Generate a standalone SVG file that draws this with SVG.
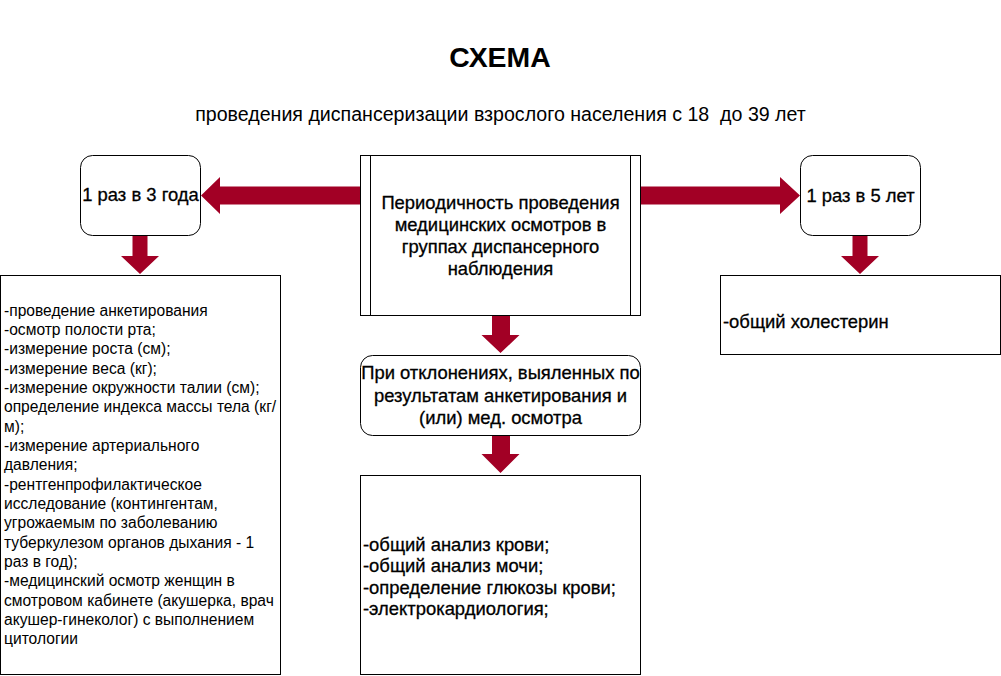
<svg xmlns="http://www.w3.org/2000/svg" width="1001" height="676" viewBox="0 0 1001 676">
<style>
text{font-family:"Liberation Sans",Arial,sans-serif;fill:#000}
.box{fill:#fff;stroke:#000;stroke-width:1}
.arr{fill:#A20025;stroke:none}
.t18{font-size:18.4px;stroke:#000;stroke-width:0.3}
.c{text-anchor:middle}
.l15{font-size:15.6px}
</style>
<rect width="1001" height="676" fill="#fff"/>
<g id="title">
<text x="500" y="67" class="c" style="font-size:28.4px;font-weight:bold">СХЕМА</text>
<text x="500.5" y="120.5" class="c" style="font-size:19.6px;white-space:pre">проведения диспансеризации взрослого населения с 18  до 39 лет</text>
</g>
<g id="connectors">
<polygon class="arr" points="360,186.5 220,186.5 220,177 201,195.5 220,214 220,204.5 360,204.5"/>
<polygon class="arr" points="640,186.5 780,186.5 780,177 800,195.5 780,214 780,204.5 640,204.5"/>
<polygon class="arr" points="132.5,236 147.5,236 147.5,256 159,256 140,274 121,256 132.5,256"/>
<polygon class="arr" points="852.5,236 867.5,236 867.5,256 879,256 860,274 841,256 852.5,256"/>
<polygon class="arr" points="492,315 510,315 510,335 519.5,335 500.5,353 481.5,335 492,335"/>
<polygon class="arr" points="492,436 510,436 510,454 519.5,454 500.5,473 481.5,454 492,454"/>
</g>
<g id="node-center">
<rect class="box" x="360.5" y="155.5" width="280" height="160"/>
<line x1="370.5" y1="155.5" x2="370.5" y2="315.5" stroke="#000"/>
<line x1="630.5" y1="155.5" x2="630.5" y2="315.5" stroke="#000"/>
<text class="t18 c" x="500.5" y="209">Периодичность проведения</text>
<text class="t18 c" x="500.5" y="231">медицинских осмотров в</text>
<text class="t18 c" x="500.5" y="253">группах диспансерного</text>
<text class="t18 c" x="500.5" y="275">наблюдения</text>
</g>
<g id="node-3years">
<rect class="box" x="80.5" y="155.5" width="120" height="80" rx="12"/>
<text class="t18 c" x="140.5" y="201">1 раз в 3 года</text>
</g>
<g id="node-5years">
<rect class="box" x="800.5" y="155.5" width="120" height="80" rx="12"/>
<text class="t18 c" x="860.5" y="202">1 раз в 5 лет</text>
</g>
<g id="node-list-left">
<rect class="box" x="0.5" y="275.5" width="280" height="399"/>
<g class="l15">
<text x="4" y="315.5">-проведение анкетирования</text>
<text x="4" y="334.85">-осмотр полости рта;</text>
<text x="4" y="354.2">-измерение роста (см);</text>
<text x="4" y="373.55">-измерение веса (кг);</text>
<text x="4" y="392.9">-измерение окружности талии (см);</text>
<text x="4" y="412.25">определение индекса массы тела (кг/</text>
<text x="4" y="431.6">м);</text>
<text x="4" y="450.95">-измерение артериального</text>
<text x="4" y="470.3">давления;</text>
<text x="4" y="489.65">-рентгенпрофилактическое</text>
<text x="4" y="509">исследование (контингентам,</text>
<text x="4" y="528.35">угрожаемым по заболеванию</text>
<text x="4" y="547.7">туберкулезом органов дыхания - 1</text>
<text x="4" y="567.05">раз в год);</text>
<text x="4" y="586.4">-медицинский осмотр женщин в</text>
<text x="4" y="605.75">смотровом кабинете (акушерка, врач</text>
<text x="4" y="625.1">акушер-гинеколог) с выполнением</text>
<text x="4" y="644.45">цитологии</text>
</g>
</g>
<g id="node-cholesterol">
<rect class="box" x="720.5" y="275.5" width="280" height="79"/>
<text class="t18" x="723" y="328">-общий холестерин</text>
</g>
<g id="node-deviations">
<rect class="box" x="360.5" y="355.5" width="280" height="80" rx="12"/>
<text class="t18 c" x="500.5" y="379">При отклонениях, выяленных по</text>
<text class="t18 c" x="500.5" y="401.5">результатам анкетирования и</text>
<text class="t18 c" x="500.5" y="424">(или) мед. осмотра</text>
</g>
<g id="node-tests">
<rect class="box" x="360.5" y="475.5" width="280" height="199"/>
<text class="t18" x="363" y="550.5">-общий анализ крови;</text>
<text class="t18" x="363" y="572">-общий анализ мочи;</text>
<text class="t18" x="363" y="593.5">-определение глюкозы крови;</text>
<text class="t18" x="363" y="615">-электрокардиология;</text>
</g>
</svg>
